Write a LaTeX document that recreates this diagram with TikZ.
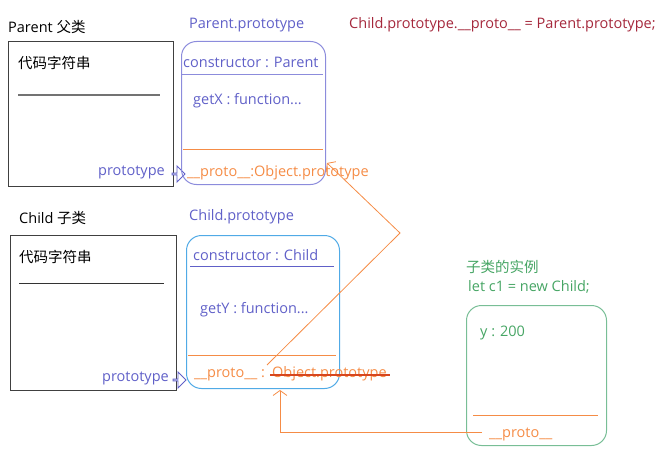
\documentclass[tikz,border=0pt]{standalone}
\usepackage{fontspec}
\setmainfont{Open Sans}
\newfontfamily\cjk{Noto Sans CJK SC}
\usepackage{xcolor}
\usetikzlibrary{arrows.meta, positioning, calc, shapes.arrows}

\definecolor{protoblue}{RGB}{96,96,200}
\definecolor{pboxcol}{RGB}{140,140,220}
\definecolor{cboxcol}{RGB}{80,170,230}
\definecolor{protoorange}{RGB}{245,140,70}
\definecolor{strikered}{RGB}{215,70,30}
\definecolor{codered}{RGB}{165,40,60}
\definecolor{instgreen}{RGB}{70,165,100}
\definecolor{iboxcol}{RGB}{120,190,150}

\begin{document}
\begin{tikzpicture}[
    x=1pt, y=-1pt,
    font=\fontsize{14.5}{17}\selectfont,
    txt/.style={anchor=west, inner sep=0pt, yshift=-2pt},
    codebox/.style={rectangle, draw=black!75, line width=1pt, anchor=north west, inner sep=0pt},
    protobox/.style={rectangle, rounded corners=15pt, line width=1pt, anchor=north west, inner sep=0pt},
    hollow/.style={single arrow, draw=protoblue, fill=white, line width=0.9pt, minimum width=16pt, minimum height=13pt, single arrow head extend=3.5pt, inner sep=0pt},
    link/.style={protoorange, line width=0.8pt, -{Straight Barb[length=5pt, width=14pt]}}
]
    \useasboundingbox (0,0) rectangle (667,460);

    % Parent class
    \node[txt] (ptitle) at (8,25) {Parent {\cjk 父类}};
    \node[codebox, minimum width=165pt, minimum height=145pt] (pcode) at (8,41) {};
    \node[txt] (pstr) at (18,61) {\cjk 代码字符串};
    \draw[black!55, line width=1.5pt] (18,95) -- (160,95);
    \node[txt, anchor=east, protoblue] (pptr) at (165,170) {prototype};
    \node[hollow] (parr) at (178,174) {};

    % Parent.prototype
    \node[txt, protoblue] (pptitle) at (189,23) {Parent.prototype};
    \node[protobox, draw=pboxcol, minimum width=144pt, minimum height=143pt] (pproto) at (181,41) {};
    \node[txt, protoblue] (pcons) at (183,60) {constructor : Parent};
    \draw[pboxcol, line width=0.9pt] (182,74) -- (323,74);
    \node[txt, protoblue] (pgetx) at (193,99) {getX : function...};
    \draw[protoorange, line width=0.9pt] (183,149) -- (323,149);
    \node[txt, protoorange] (pobj) at (187,171) {\_\_proto\_\_:Object.prototype};

    % Code line
    \node[txt, codered] (assign) at (349,23) {Child.prototype.\_\_proto\_\_ = Parent.prototype;};

    % Child class
    \node[txt] (ctitle) at (19,216) {Child {\cjk 子类}};
    \node[codebox, minimum width=166pt, minimum height=155pt] (ccode) at (10,235) {};
    \node[txt] (cstr) at (19,255) {\cjk 代码字符串};
    \draw[black!80, line width=1pt] (19,283) -- (164,283);
    \node[txt, anchor=east, protoblue] (cptr) at (169,376) {prototype};
    \node[hollow] (carr) at (179,380) {};

    % Child.prototype
    \node[txt, protoblue] (cptitle) at (189,215) {Child.prototype};
    \node[protobox, draw=cboxcol, minimum width=153pt, minimum height=153pt] (cproto) at (186,235) {};
    \node[txt, protoblue] (ccons) at (193,253) {constructor : Child};
    \draw[protoblue, line width=0.9pt] (190,266) -- (334,266);
    \node[txt, protoblue] (cgety) at (200,308) {getY : function...};
    \draw[protoorange, line width=0.9pt] (188,355) -- (336,355);
    \node[txt, protoorange] (cplbl) at (194,372) {\_\_proto\_\_ :};
    \node[txt, protoorange] (cobj) at (272,372) {Object.prototype};
    \draw[strikered, line width=1.4pt] ($(cobj.west)+(-2,1)$) -- ($(cobj.east)+(3,1)$);

    % Instance
    \node[txt, instgreen] (ititle) at (466,265) {\cjk 子类的实例};
    \node[txt, instgreen] (inew) at (468,285) {let c1 = new Child;};
    \node[protobox, draw=iboxcol, minimum width=140pt, minimum height=140pt] (inst) at (466,305) {};
    \node[txt, instgreen] (iy) at (480,331) {y : 200};
    \draw[protoorange, line width=0.9pt] (473,415) -- (598,415);
    \node[txt, protoorange] (iproto) at (489,432) {\_\_proto\_\_};

    % Prototype links
    \coordinate (cstart) at (267,365);
    \coordinate (turn) at (400,233);
    \coordinate (ptip) at (327,163);
    \draw[link] (cstart) -- (turn) -- (ptip);
    \coordinate (ctip) at (280,390);
    \draw[link] ($(iproto.west)+(-7,-2)$) -| (ctip);
\end{tikzpicture}
\end{document}
